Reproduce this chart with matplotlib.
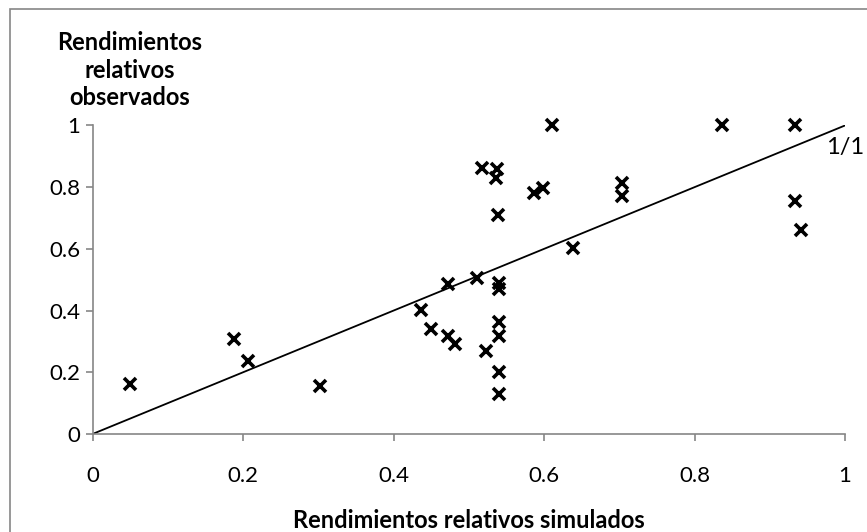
import matplotlib.pyplot as plt
from matplotlib.patches import Rectangle

# simulated vs observed relative yields
simulados = [0.050, 0.188, 0.207, 0.302, 0.437, 0.450, 0.472, 0.473, 0.482, 0.511,
             0.518, 0.523, 0.536, 0.538, 0.539, 0.540, 0.540, 0.540, 0.540, 0.540,
             0.540, 0.587, 0.598, 0.610, 0.638, 0.703, 0.703, 0.836, 0.934, 0.934,
             0.942]
observados = [0.161, 0.307, 0.237, 0.156, 0.402, 0.339, 0.485, 0.318, 0.291, 0.507,
              0.863, 0.269, 0.831, 0.858, 0.710, 0.490, 0.469, 0.362, 0.318, 0.200,
              0.129, 0.780, 0.798, 1.000, 0.604, 0.813, 0.772, 1.000, 1.000, 0.755,
              0.661]
linea_11 = [0, 1]
ticks = [0, 0.2, 0.4, 0.6, 0.8, 1]
tick_labels = ['0', '0.2', '0.4', '0.6', '0.8', '1']

plt.rcParams['font.family'] = ['Lato', 'DejaVu Sans']

fig = plt.figure(figsize=(8.67, 5.32), dpi=100)
ax = fig.add_axes([0.1067, 0.1842, 0.868, 0.580])

grey = '#868686'
ax.plot(linea_11, linea_11, color='black', lw=1.3, zorder=2)
ax.plot(simulados, observados, linestyle='none', marker='x', color='black',
        markersize=8, markeredgewidth=2.6, zorder=3, clip_on=False)

ax.set_xlim(0, 1)
ax.set_ylim(0, 1)
ax.set_xticks(ticks)
ax.set_xticklabels(tick_labels)
ax.set_yticks(ticks)
ax.set_yticklabels(tick_labels)
for s in ['top', 'right']:
    ax.spines[s].set_visible(False)
for s in ['left', 'bottom']:
    ax.spines[s].set_color(grey)
    ax.spines[s].set_linewidth(1.2)
ax.tick_params(axis='both', direction='out', length=5, width=1.2, color=grey,
               labelsize=16, labelcolor='black')
ax.tick_params(axis='x', pad=18)
ax.tick_params(axis='y', pad=4)

ax.text(1.0, 0.93, '1/1', fontsize=17, ha='center', va='center',
        clip_on=False)

fig.text(469 / 867, 1 - 528 / 532, 'Rendimientos relativos simulados',
         ha='center', va='baseline', fontsize=17, fontweight='bold')
fig.text(130 / 867, 1 - 70 / 532, 'Rendimientos\nrelativos\nobservados',
         ha='center', va='center', fontsize=17, fontweight='bold',
         linespacing=1.25)

# chart area border, its right and bottom edges fall outside the image
fig.patches.append(Rectangle((10 / 867, -0.05), 0.99, 1.05 - 9 / 532,
                             transform=fig.transFigure, fill=False,
                             edgecolor=grey, lw=1.2))

fig.savefig('out.png', dpi=100)
